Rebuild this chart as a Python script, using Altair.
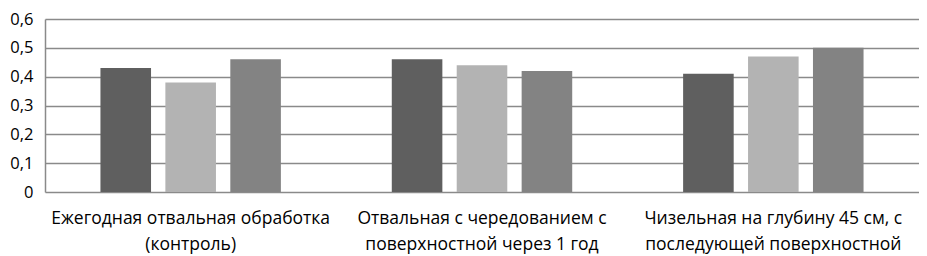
import altair as alt
import pandas as pd

categories = [
    "Ежегодная отвальная обработка|(контроль)",
    "Отвальная с чередованием с|поверхностной через 1 год",
    "Чизельная на глубину 45 см, с|последующей поверхностной",
]
series = ["Ряд 1", "Ряд 2", "Ряд 3"]
values = [
    [0.43, 0.38, 0.46],
    [0.46, 0.44, 0.42],
    [0.41, 0.47, 0.50],
]
colors = ["#5f5f5f", "#b3b3b3", "#838383"]

rows = []
for ci, cat in enumerate(categories):
    for si, s in enumerate(series):
        rows.append({"cat": cat, "series": s, "value": values[ci][si]})
df = pd.DataFrame(rows)

FONT = "Open Sans"

chart = alt.Chart(df).mark_bar().encode(
    x=alt.X(
        "cat:N",
        sort=categories,
        title=None,
        scale=alt.Scale(paddingInner=0, paddingOuter=0),
        axis=alt.Axis(
            labelAngle=0,
            labelExpr="split(datum.label, '|')",
            labelFont=FONT,
            labelFontSize=17.5,
            labelColor="#000000",
            labelLineHeight=26,
            labelPadding=17,
            labelBaseline="top",
            labelLimit=0,
            ticks=False,
            domain=False,
            grid=False,
        ),
    ),
    xOffset=alt.XOffset(
        "series:N",
        sort=series,
        scale=alt.Scale(paddingInner=0.221, paddingOuter=0.854),
    ),
    y=alt.Y(
        "value:Q",
        title=None,
        scale=alt.Scale(domain=[0, 0.6], nice=False),
        axis=alt.Axis(
            values=[0, 0.1, 0.2, 0.3, 0.4, 0.5, 0.6],
            labelExpr="datum.value == 0 ? '0' : replace(format(datum.value, '.1f'), '.', ',')",
            labelFont=FONT,
            labelFontSize=16.5,
            labelColor="#000000",
            labelPadding=12,
            ticks=False,
            domain=True,
            domainColor="#8a8a8a",
            domainWidth=1.5,
            grid=True,
            gridColor="#8a8a8a",
            gridWidth=1.5,
        ),
    ),
    color=alt.Color(
        "series:N",
        sort=series,
        scale=alt.Scale(domain=series, range=colors),
        legend=None,
    ),
).properties(
    width=874,
    height=173,
    autosize=alt.AutoSizeParams(type="none"),
    padding={"left": 37, "top": 11, "right": 0, "bottom": 64},
).configure_view(stroke=None)

chart.save("out.html", embed_options={"renderer": "svg", "actions": False})
